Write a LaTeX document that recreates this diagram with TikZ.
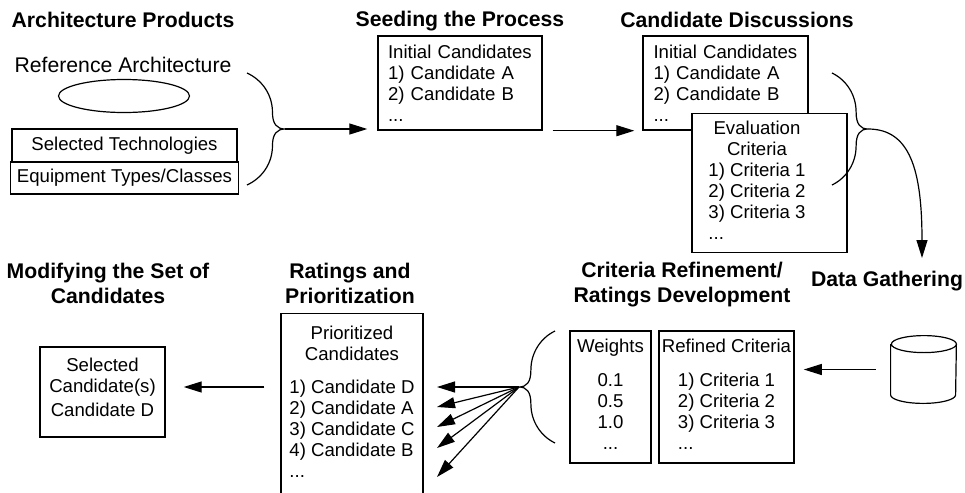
\documentclass[tikz,border=0pt]{standalone}
\usepackage{fontspec}
\setmainfont{Liberation Sans}
\usetikzlibrary{arrows.meta,shapes.geometric}
\tikzset{
  heading/.style = {font=\bfseries\fontsize{10.6}{12.5}\selectfont, align=center},
  listbox/.style = {draw, line width=0.7pt, font=\fontsize{9.3}{10.5}\selectfont},
  sig/.style     = {-{Triangle[length=9pt,width=5.5pt]}, line width=0.6pt},
  brc/.style     = {line width=0.6pt},
}
% curly brace: x of ends, x of tip, y top, y tip, y bottom, name of tip
\newcommand{\curlybrace}[6]{%
  \pgfmathsetmacro{\brcx}{#1+0.67*(#2-#1)}%
  \pgfmathsetmacro{\brcc}{#1+0.6*(\brcx-#1)}%
  \pgfmathsetmacro{\brct}{\brcx+0.35*(#2-\brcx)}%
  \pgfmathsetmacro{\brha}{#4-#3}%
  \pgfmathsetmacro{\brhb}{#5-#4}%
  \draw[brc] (#1,#3) .. controls (\brcc,{#3+0.125*\brha}) and (\brcx,{#3+0.39*\brha}) .. (\brcx,{#3+0.7*\brha})
    .. controls (\brcx,{#3+0.91*\brha}) and (\brct,#4) .. (#2,#4)
    .. controls (\brct,#4) and (\brcx,{#5-0.91*\brhb}) .. (\brcx,{#5-0.7*\brhb})
    .. controls (\brcx,{#5-0.39*\brhb}) and (\brcc,{#5-0.125*\brhb}) .. (#1,#5);
  \coordinate (#6) at (#2,#4);
}

\begin{document}
\begin{tikzpicture}[x=0.5pt,y=-0.5pt]
\useasboundingbox (0,0) rectangle (965,493);
% ---------- architecture products ----------
\node[heading] (tarch) at (123,19.5) {Architecture Products};
\node[font=\fontsize{10.6}{12.5}\selectfont] (refarch) at (123,64.5) {Reference Architecture};
\node[draw, ellipse, line width=0.6pt, minimum width=65.5pt, minimum height=16.5pt, inner sep=0pt] (refell) at (124,96) {};
\node[listbox, minimum width=112.5pt, minimum height=16.5pt] (tech) at (124.5,145.5) {Selected Technologies};
\node[listbox, minimum width=112.5pt, minimum height=16pt] (equip) at (124.5,178) {Equipment Types/Classes};
\curlybrace{247}{285}{73}{129}{185}{tip1}
% ---------- seeding the process ----------
\node[heading] (tseed) at (460,21.5) {Seeding the Process};
\node[listbox, text width=72pt, inner xsep=5pt, minimum height=47pt, align=left] (seed) at (460,83)
  {Initial Candidates\\1) Candidate A\\2) Candidate B\\...};
\draw[sig, shorten >=5pt] (tip1) -- (seed.west |- tip1);
% ---------- candidate discussions ----------
\node[heading] (tcand) at (737,19.5) {Candidate Discussions};
\node[listbox, text width=72pt, inner xsep=5.25pt, minimum height=47pt, align=left] (cand) at (725.5,83)
  {Initial Candidates\\1) Candidate A\\2) Candidate B\\...};
\node[listbox, fill=white, minimum width=77.5pt, minimum height=68pt, inner xsep=0pt] (eval) at (769.5,183)
  {\begin{tabular}{@{}c@{\hspace{12.5pt}}}Evaluation\\Criteria\\
   \begin{tabular}[t]{@{}l@{}}1) Criteria 1\\2) Criteria 2\\3) Criteria 3\\...\end{tabular}\end{tabular}};
\draw[sig, shorten <=5pt, shorten >=4pt] (seed.south east) -- (cand.west |- seed.south east);
\curlybrace{832}{868}{73}{129}{185}{tip2}
% ---------- data gathering ----------
\node[heading] (tdata) at (887,281.5) {Data Gathering};
\coordinate (gath) at (922,258);
\draw[sig] (tip2) .. controls (910,129) and (922,170) .. (gath);
\node[minimum width=32.5pt, minimum height=33.5pt, inner sep=0pt] (db) at (923.5,369.5) {};
\draw[brc] ([yshift=4.25pt]db.south west) arc[start angle=180, end angle=360, x radius=16.25pt, y radius=4.25pt]
  -- ([yshift=-4.25pt]db.north east) arc[start angle=0, end angle=180, x radius=16.25pt, y radius=4.25pt]
  arc[start angle=180, end angle=360, x radius=16.25pt, y radius=4.25pt]
  ([yshift=-4.25pt]db.north west) -- ([yshift=4.25pt]db.south west);
% ---------- criteria refinement ----------
\node[heading] (tcrit) at (682,285) {Criteria Refinement/\\Ratings Development};
\node[listbox, minimum width=40.5pt, minimum height=66pt, inner xsep=2pt, align=center] (wts) at (610.5,397)
  {Weights\\[6.5pt]\begin{tabular}[t]{@{}c@{}}0.1\\0.5\\1.0\\...\end{tabular}};
\node[listbox, minimum width=67.5pt, minimum height=66pt, inner xsep=1.5pt, align=center] (ref) at (726.5,397)
  {Refined Criteria\\[6.5pt]\begin{tabular}[t]{@{}l@{}}1) Criteria 1\\2) Criteria 2\\3) Criteria 3\\...\end{tabular}};
\draw[sig, shorten <=7.5pt, shorten >=4.5pt] (db.west) -- (ref.east |- db.west);
\curlybrace{555}{519}{331}{387}{443}{tip3}
% ---------- ratings and prioritization ----------
\node[heading] (tprio) at (350,283) {Ratings and\\Prioritization};
\node[listbox, anchor=north, minimum width=71pt, minimum height=91pt, align=center] (prio) at (352,313)
  {Prioritized\\Candidates\\[6pt]\begin{tabular}[t]{@{}l@{}}1) Candidate D\\2) Candidate A\\3) Candidate C\\4) Candidate B\\...\end{tabular}};
\coordinate (r1) at (437,387);
\coordinate (r2) at (437,407);
\coordinate (r3) at (437,427);
\coordinate (r4) at (437,448);
\coordinate (r5) at (437,477);
\draw[sig] (tip3) -- (r1);
\draw[sig] (tip3) -- (r2);
\draw[sig] (tip3) -- (r3);
\draw[sig] (tip3) -- (r4);
\draw[sig] (tip3) -- (r5);
% ---------- modifying the set ----------
\node[heading] (tmod) at (108,283) {Modifying the Set of\\Candidates};
\node[listbox, minimum width=62.5pt, minimum height=45pt, text depth=5pt, align=center] (sel) at (102.5,392)
  {Selected\\Candidate(s)\\[1.5pt]Candidate D};
\draw[sig, shorten <=8pt, shorten >=9pt] (prio.west |- tip3) -- (sel.east |- tip3);
\end{tikzpicture}
\end{document}
